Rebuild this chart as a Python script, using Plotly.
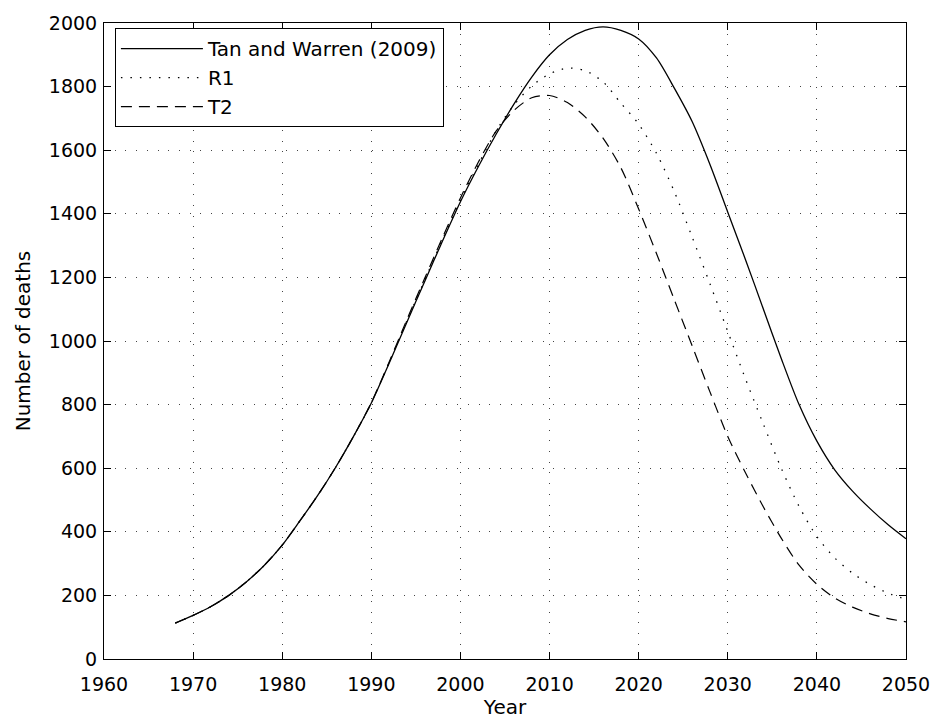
import plotly.graph_objects as go

years = [1968, 1970, 1972, 1974, 1976, 1978, 1980, 1982, 1984, 1986, 1988, 1990,
         1992, 1994, 1996, 1998, 2000, 2002, 2004, 2006, 2008, 2010, 2012, 2014,
         2016, 2018, 2020, 2022, 2024, 2026, 2028, 2030, 2032, 2034, 2036, 2038,
         2040, 2042, 2044, 2046, 2048, 2050]

tan_warren = [113, 137, 165, 200, 243, 295, 358, 435, 515, 603, 700, 805,
              930, 1060, 1188, 1315, 1438, 1548, 1650, 1745, 1830, 1900, 1948, 1977,
              1988, 1977, 1950, 1890, 1795, 1690, 1555, 1405, 1255, 1100, 945, 800,
              685, 595, 528, 472, 422, 378]

r1 = [113, 137, 165, 200, 243, 295, 358, 435, 515, 603, 700, 805,
      932, 1064, 1192, 1320, 1443, 1555, 1660, 1742, 1802, 1840, 1858, 1850,
      1815, 1748, 1682, 1590, 1470, 1327, 1180, 1030, 880, 738, 600, 480,
      385, 318, 270, 234, 207, 188]

t2 = [113, 137, 165, 200, 243, 295, 358, 435, 515, 603, 700, 806,
      934, 1068, 1198, 1326, 1450, 1562, 1660, 1725, 1765, 1772, 1750, 1705,
      1638, 1545, 1415, 1275, 1130, 985, 840, 700, 585, 478, 380, 295,
      235, 192, 163, 142, 127, 117]

series_names = ["Tan and Warren (2009)", "R1", "T2"]
x_ticks = list(range(1960, 2051, 10))
y_ticks = list(range(0, 2001, 200))

FONT = "DejaVu Sans, Liberation Sans, Arial, sans-serif"

fig = go.Figure()
fig.add_trace(go.Scatter(x=years, y=tan_warren, mode="lines", name=series_names[0],
                         line=dict(color="black", width=1.3, shape="spline", smoothing=0.8)))
fig.add_trace(go.Scatter(x=years, y=r1, mode="lines", name=series_names[1],
                         line=dict(color="black", width=1.3, dash="1.5px,8px", shape="spline", smoothing=0.8)))
fig.add_trace(go.Scatter(x=years, y=t2, mode="lines", name=series_names[2],
                         line=dict(color="black", width=1.2, dash="11px,7px", shape="spline", smoothing=0.8)))

axis_common = dict(
    showline=True, linecolor="black", linewidth=1, mirror="ticks",
    ticks="inside", ticklen=7, tickcolor="black", tickwidth=1,
    showgrid=True, gridcolor="#444", gridwidth=1, griddash="1px,9.7px",
    zeroline=False,
    tickfont=dict(family=FONT, size=19, color="black"),
)

fig.update_xaxes(range=[1960, 2050], tickvals=x_ticks, ticktext=[str(v) for v in x_ticks],
                 ticklabelstandoff=8,
                 title=dict(text="Year", font=dict(family=FONT, size=20, color="black"), standoff=0),
                 **axis_common)
fig.update_yaxes(range=[0, 2000], tickvals=y_ticks, ticktext=[str(v) for v in y_ticks],
                 ticklabelstandoff=2,
                 title=dict(text="Number of deaths", font=dict(family=FONT, size=20, color="black"), standoff=12),
                 **axis_common)

fig.update_layout(
    width=942, height=723,
    margin=dict(l=104, r=31, t=16, b=64),
    paper_bgcolor="white", plot_bgcolor="white",
    font=dict(family=FONT, size=20, color="black"),
    showlegend=True,
    legend=dict(x=0.0136, y=0.992, xanchor="left", yanchor="top",
                bgcolor="white", bordercolor="black", borderwidth=1,
                font=dict(family=FONT, size=20, color="black"),
                itemwidth=82, tracegroupgap=0),
)

fig.write_html("out.html")
